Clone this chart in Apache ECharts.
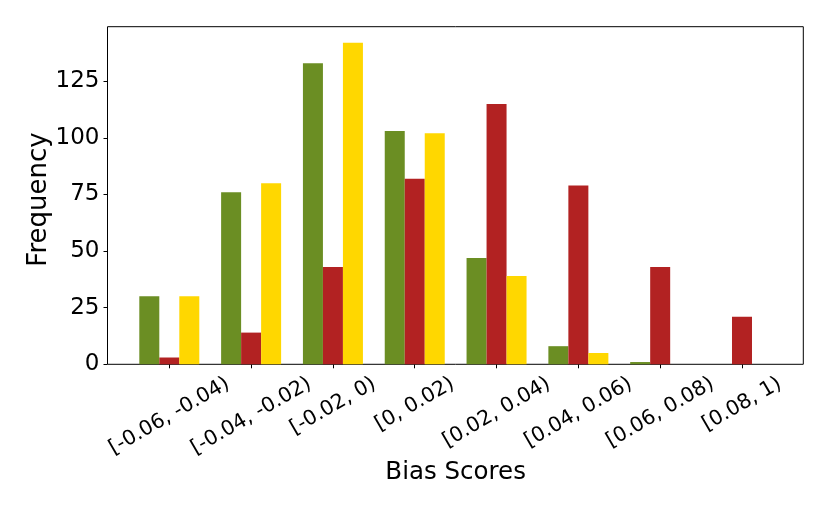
<!DOCTYPE html>
<html><head><meta charset="utf-8">
<script src="https://cdn.jsdelivr.net/npm/echarts@6/dist/echarts.min.js"></script>
<style>html,body{margin:0;padding:0;background:#fff}#c{width:830px;height:511px}</style>
</head><body><div id="c"></div>
<script>
const categories = ['[-0.06, -0.04)', '[-0.04, -0.02)', '[-0.02, 0)', '[0, 0.02)', '[0.02, 0.04)', '[0.04, 0.06)', '[0.06, 0.08)', '[0.08, 1)'];
const greenValues = [30, 76, 133, 103, 47, 8, 1, 0];
const redValues = [3, 14, 43, 82, 115, 79, 43, 21];
const yellowValues = [30, 80, 142, 102, 39, 5, 0, 0];
const yTicks = [0, 25, 50, 75, 100, 125];
const yMax = 149.1;

const FONT = '"DejaVu Sans", sans-serif';
const XLABEL_SIZE = 20.5;
const YLABEL_SIZE = 23;

// Emulate matplotlib rotation=30, ha='center', va='top' tick labels
const ctx = document.createElement('canvas').getContext('2d');
ctx.font = XLABEL_SIZE + 'px "DejaVu Sans"';
const rich = {};
categories.forEach((c, i) => {
  const W = ctx.measureText(c).width;
  const h = XLABEL_SIZE;
  const T = Math.max(0, 0.2165 * W - 0.125 * h);
  const R = Math.max(0, 0.25 * W + 0.433 * h);
  rich['p' + i] = {fontSize: XLABEL_SIZE, fontFamily: FONT, color: '#000', padding: [T, R, 0, 0]};
});

const chart = echarts.init(document.getElementById('c'), null, {renderer: 'canvas'});
chart.setOption({
  animation: false,
  backgroundColor: '#fff',
  grid: [
    {left: 107.5, right: 26.7, top: 26.7, bottom: 146.7, show: true, borderColor: '#000', borderWidth: 1, backgroundColor: 'transparent'},
    {left: 128.4, right: 47.1, top: 26.7, bottom: 146.7}
  ],
  xAxis: [
    {gridIndex: 0, type: 'value', min: 0, max: 1, show: false},
    {
      gridIndex: 1, type: 'category', data: categories,
      axisLine: {show: false},
      axisTick: {show: true, alignWithLabel: true, length: 4, lineStyle: {color: '#000', width: 1}},
      axisLabel: {
        interval: 0, rotate: 30, align: 'center', verticalAlign: 'top', margin: 9,
        fontSize: XLABEL_SIZE, fontFamily: FONT, color: '#000',
        formatter: (v, i) => '{p' + i + '|' + v + '}', rich: rich
      },
      name: 'Bias Scores', nameLocation: 'middle', nameGap: 96, nameMoveOverlap: false,
      nameTextStyle: {fontSize: 24.5, fontFamily: FONT, color: '#000'}
    }
  ],
  yAxis: [
    {
      gridIndex: 0, type: 'value', min: 0, max: yMax,
      axisLine: {show: false}, splitLine: {show: false},
      axisTick: {show: true, length: 4, customValues: yTicks, lineStyle: {color: '#000', width: 1}},
      axisLabel: {customValues: yTicks, margin: 8, fontSize: YLABEL_SIZE, fontFamily: FONT, color: '#000'},
      name: 'Frequency', nameLocation: 'middle', nameGap: 55, nameMoveOverlap: false,
      nameTextStyle: {fontSize: 26, fontFamily: FONT, color: '#000', padding: [0, 8, 0, 0]}
    },
    {gridIndex: 1, type: 'value', min: 0, max: yMax, show: false}
  ],
  series: [
    {name: 'Green', type: 'bar', xAxisIndex: 1, yAxisIndex: 1, data: greenValues, barWidth: 20, barGap: '0%', itemStyle: {color: '#6B8E23'}},
    {name: 'Red', type: 'bar', xAxisIndex: 1, yAxisIndex: 1, data: redValues, barWidth: 20, barGap: '0%', itemStyle: {color: '#B22222'}},
    {name: 'Yellow', type: 'bar', xAxisIndex: 1, yAxisIndex: 1, data: yellowValues, barWidth: 20, barGap: '0%', itemStyle: {color: '#FFD700'}}
  ]
});
</script>
</body></html>
